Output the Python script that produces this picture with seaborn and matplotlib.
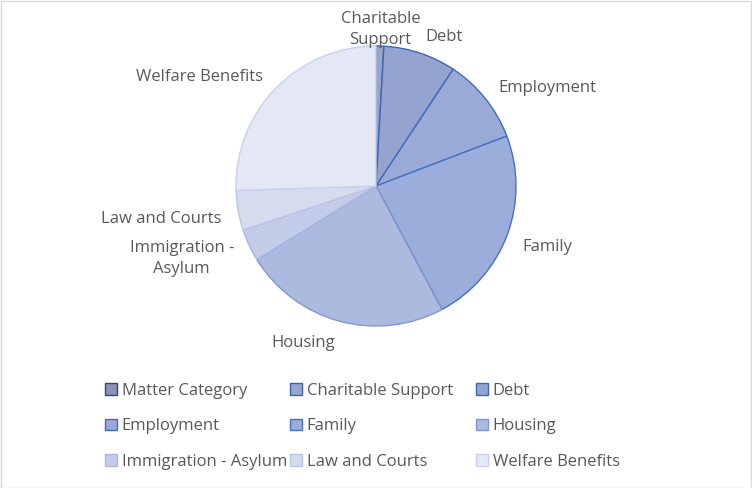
"""Matter categories pie chart"""
import matplotlib

matplotlib.use("Agg")
from matplotlib import pyplot as plt
from matplotlib.patches import Rectangle
from matplotlib.transforms import offset_copy
import seaborn as sns

categories = [
    "Matter Category",
    "Charitable Support",
    "Debt",
    "Employment",
    "Family",
    "Housing",
    "Immigration - Asylum",
    "Law and Courts",
    "Welfare Benefits",
]
pie_labels = [
    "",
    "Charitable\nSupport",
    "Debt",
    "Employment",
    "Family",
    "Housing",
    "Immigration -\nAsylum",
    "Law and Courts",
    "Welfare Benefits",
]
shares = [0.0, 0.9, 8.4, 9.9, 23.0, 24.0, 3.7, 4.6, 25.5]

fills = ["#8a93b4", "#9aa5cc", "#95a4cf", "#9aaad7", "#9badda",
         "#adbae0", "#c3cdea", "#d5dcf0", "#e4e8f4"]
edges = ["#2f4776", "#3a62b2", "#3d66b8", "#4169bc", "#4472c4",
         "#7f96d2", "#a9b7e0", "#bac5e6", "#c9d1ec"]

sns.set_theme(style="white")
plt.rcParams["font.family"] = ["Open Sans", "DejaVu Sans"]
text_color = "#595959"
fs = 12

fig = plt.figure(figsize=(7.52, 4.88), dpi=100)
ax = fig.add_axes([236 / 752, 162 / 488, 280 / 752, 280 / 488])

wedges, texts = ax.pie(
    shares,
    labels=pie_labels,
    colors=fills,
    startangle=90,
    counterclock=False,
    labeldistance=1.12,
    wedgeprops={"linewidth": 1.0},
    textprops={"fontsize": fs, "color": text_color},
)
for w, ec in zip(wedges, edges):
    w.set_edgecolor(ec)
for t in texts:
    t.set_multialignment("center")
    t.set_linespacing(1.45)
    # Excel nudges the labels under the centre a little further down
    if t.get_position()[1] < 0:
        t.set_transform(offset_copy(ax.transData, fig=fig, y=-6, units="dots"))
texts[1].set_ha("center")
ax.set_xlim(-1, 1)
ax.set_ylim(-1, 1)
ax.set_aspect("equal")

# Excel-style legend: three equal columns, row-major order
col_x = [105, 290, 476]
for j, x in enumerate(col_x):
    idx = [j, j + 3, j + 6]
    fig.legend(
        [wedges[i] for i in idx],
        [categories[i] for i in idx],
        loc="upper left",
        bbox_to_anchor=(x / 752, 1 - 383 / 488),
        frameon=False,
        fontsize=fs,
        labelcolor=text_color,
        handlelength=0.7,
        handleheight=0.7,
        handletextpad=0.3,
        labelspacing=1.16,
        borderaxespad=0,
        borderpad=0,
    )

fig.patches.append(
    Rectangle((0.001, 0.001), 0.998, 0.997, transform=fig.transFigure,
              fill=False, edgecolor="#d9d9d9", linewidth=1.0)
)

fig.savefig("out.png", dpi=100)
